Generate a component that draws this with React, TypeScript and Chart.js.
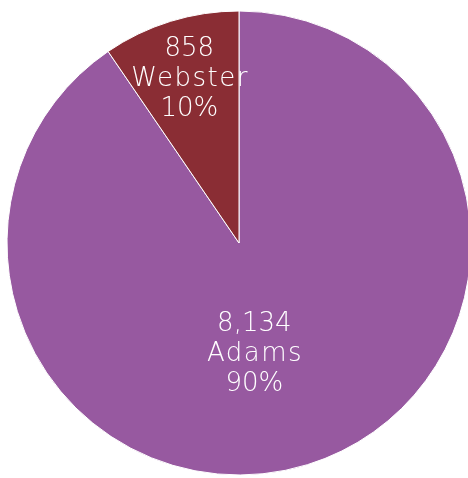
import React, { useEffect, useRef } from "react";
import { Chart, registerables } from "chart.js";

Chart.register(...registerables);

const categories = ["Adams", "Webster"];
const values = [8134, 858];
const percentLabels = ["90%", "10%"];
const colors = ["#9759A0", "#8A2D34"];

// label placement relative to pie centre, as fraction of radius (style only)
const labelOffsets = [
  [0.066, 0.48],
  [-0.214, -0.705],
];

const labelPlugin = {
  id: "sliceLabels",
  afterDatasetsDraw(chart: any) {
    const ctx = chart.ctx;
    const meta = chart.getDatasetMeta(0);
    meta.data.forEach((arc: any, i: number) => {
      const r = arc.outerRadius;
      const x = arc.x + labelOffsets[i][0] * r;
      const y = arc.y + labelOffsets[i][1] * r;
      const lines = [values[i].toLocaleString("en-US"), categories[i], percentLabels[i]];
      ctx.save();
      ctx.fillStyle = "#ffffff";
      ctx.font = "300 26px 'DejaVu Sans', sans-serif";
      ctx.textAlign = "center";
      ctx.textBaseline = "middle";
      lines.forEach((t, k) => {
        (ctx as any).letterSpacing = k === 1 ? "1.5px" : "0px";
        ctx.fillText(t, x + (k === 1 ? 0.75 : 0), y + (k - 1) * 30);
      });
      ctx.restore();
    });
  },
};

export default function App() {
  const ref = useRef<HTMLCanvasElement>(null);
  useEffect(() => {
    if (!ref.current) return;
    const chart = new Chart(ref.current, {
      type: "pie",
      data: {
        labels: categories,
        datasets: [
          {
            data: values,
            backgroundColor: colors,
            borderColor: "#ffffff",
            borderWidth: 1,
          },
        ],
      },
      options: {
        responsive: false,
        animation: false,
        layout: { padding: { left: 6.5, right: 6.5, top: 10.5, bottom: 2.5 } },
        plugins: {
          legend: { display: false },
          tooltip: { enabled: false },
        },
      },
      plugins: [labelPlugin],
    });
    return () => chart.destroy();
  }, []);
  return (
    <div style={{ position: "absolute", left: 0, top: 0, width: 468, height: 478, overflow: "hidden", background: "#fff" }}>
      <canvas ref={ref} width={478} height={478} style={{ display: "block" }} />
    </div>
  );
}
